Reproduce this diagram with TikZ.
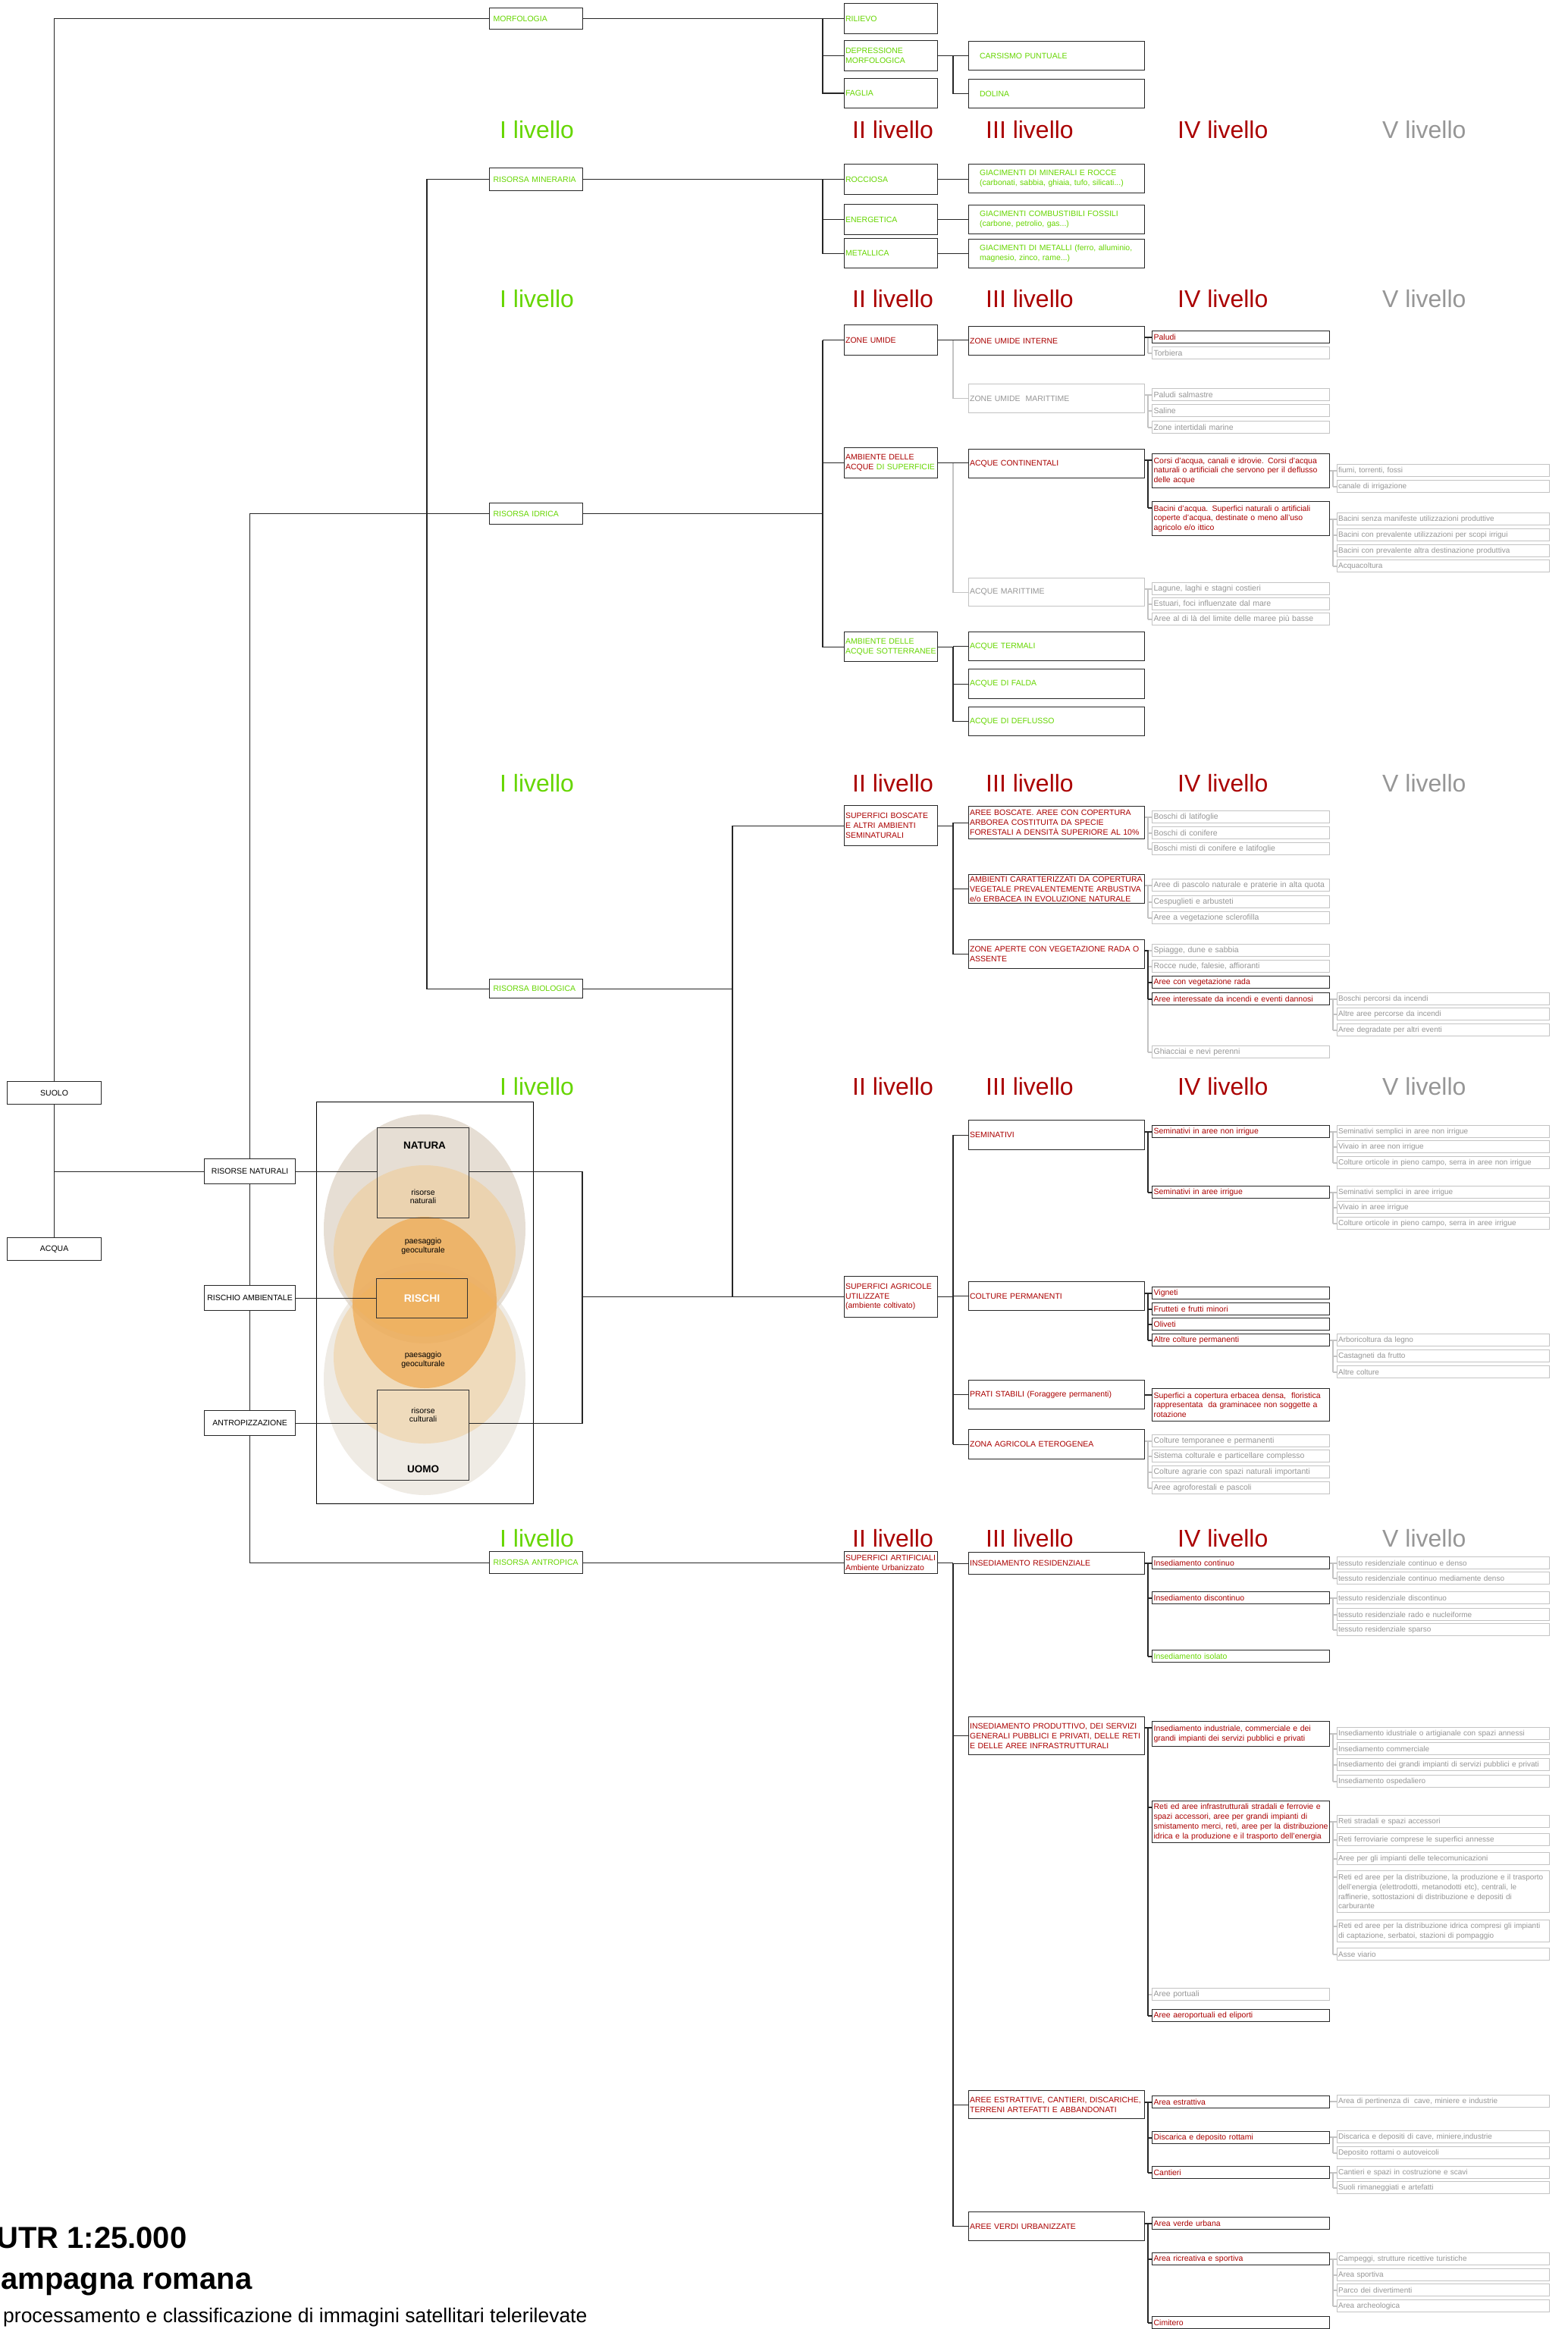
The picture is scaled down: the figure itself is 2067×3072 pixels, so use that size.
\documentclass[tikz,border=0pt]{standalone}
\usepackage{fontspec}
\setmainfont{Liberation Sans}
\definecolor{verde}{RGB}{102,214,0}
\definecolor{rosso}{RGB}{170,0,0}
\definecolor{grigio}{RGB}{150,150,150}
\definecolor{grigiochiaro}{RGB}{195,195,195}
\definecolor{terra}{RGB}{205,190,170}
\definecolor{sabbia}{RGB}{240,200,140}
\definecolor{arancio}{RGB}{240,160,60}
\newcommand\fp{\fontsize{10.5}{12.8}\selectfont}
\newcommand\fpv{\fontsize{10}{12.6}\selectfont}
\tikzset{
casella/.style={draw=black!85, line width=1.2pt, fill=white, inner ysep=1pt, align=left, anchor=north west, font=\fp},
lvI/.style={casella, text width=113pt, inner xsep=5pt},
lvII/.style={casella, text width=120pt, inner xsep=1.5pt},
lvIII/.style={casella, text width=229pt, inner xsep=1.5pt},
lvIIIg/.style={casella, text width=203pt, inner xsep=14.5pt},
lvIV/.style={casella, text width=230pt, inner xsep=2pt},
lvV/.style={casella, text width=277pt, inner xsep=1.5pt, font=\fpv},
voce verde/.style={text=verde},
voce rossa/.style={text=rosso},
voce spenta/.style={text=grigio, draw=grigiochiaro},
radice/.style={draw=black!85, line width=1.2pt, fill=white, anchor=north west, inner sep=0pt, font=\fp},
riquadro/.style={draw=black!80, line width=1.2pt, anchor=north west, inner sep=0pt},
didascalia/.style={font=\fontsize{10.5}{11.5}\selectfont, align=center, inner sep=0pt},
liv/.style={anchor=base west, inner sep=0pt, font=\fontsize{32}{36}\selectfont},
filo/.style={line width=1.2pt, black!85},
filo spento/.style={line width=1.2pt, grigiochiaro}
}
\newcommand\bx[6][]{%
  \node[#1, minimum height={(#5-#4)*1pt}] (#2) at (#3,#4) {#6};
  \coordinate (#2-t) at ([yshift=-9pt]#2.north west);}
\newcommand\ramo[6][filo]{%
  \draw[#1] (#2.east |- #5-t) -- (#3 |- #5-t) -- (#3 |- #6-t);
  \foreach \figlio in {#4} {\draw[#1] (#3 |- \figlio-t) -- (\figlio-t);}}
\newcommand\ramoIII[4]{%
  \draw[filo] (#1.east) -- (jIII |- #1.east);
  \draw[filo] (jIII |- #3.west) -- (jIII |- #4.west);
  \foreach \figlio in {#2} {\draw[filo] (jIII |- \figlio.west) -- (\figlio.west);}}

\begin{document}
\begin{tikzpicture}[x=1pt, y=-1pt]
\useasboundingbox (0,0) rectangle (2067,3072);

\fill[terra, fill opacity=.5] (560,1621) ellipse [x radius=133, y radius=151];
\fill[terra!70, fill opacity=.45] (560,1819) ellipse [x radius=133, y radius=153];
\fill[sabbia, fill opacity=.5] (560,1650) ellipse [x radius=120, y radius=113];
\fill[sabbia, fill opacity=.45] (560,1790) ellipse [x radius=120, y radius=114];
\fill[arancio, fill opacity=.6] (560,1718) ellipse [x radius=95, y radius=113];
\draw[line width=1pt] (417,1453) rectangle (703,1983);

\node[riquadro, minimum width=121pt, minimum height=119pt] (natura) at (497,1487) {};
\node[riquadro, minimum width=120pt, minimum height=52pt, text=white, font=\bfseries\fontsize{14}{16}\selectfont] (rischi) at (496,1686) {RISCHI};
\node[riquadro, minimum width=121pt, minimum height=119pt] (uomo) at (497,1833) {};
\node[didascalia, font=\bfseries\fontsize{13.5}{15}\selectfont] (t-natura) at (560,1511) {NATURA};
\node[didascalia] (t-risnat) at (558,1578) {risorse\\naturali};
\node[didascalia] (t-paes1) at (558,1644) {paesaggio\\geoculturale};
\node[didascalia] (t-paes2) at (558,1794) {paesaggio\\geoculturale};
\node[didascalia] (t-riscult) at (558,1866) {risorse\\culturali};
\node[didascalia, font=\bfseries\fontsize{13.5}{15}\selectfont] (t-uomo) at (558,1938) {UOMO};

\node[radice, minimum width=124pt, minimum height=30pt] (suolo) at (9,1426) {SUOLO};
\node[radice, minimum width=124pt, minimum height=30pt] (acqua) at (9,1632) {ACQUA};
\node[radice, minimum width=120pt, minimum height=33pt] (risnat) at (269,1528) {RISORSE NATURALI};
\node[radice, minimum width=120pt, minimum height=33pt] (rischio) at (269,1695) {RISCHIO AMBIENTALE};
\node[radice, minimum width=120pt, minimum height=33pt] (antropiz) at (269,1860) {ANTROPIZZAZIONE};

\foreach \y in {183,405,1044,1444,2040}{
  \node[liv, text=verde] (liv1-\y) at (659,\y) {I livello};
  \node[liv, text=rosso] (liv2-\y) at (1124,\y) {II livello};
  \node[liv, text=rosso] (liv3-\y) at (1300,\y) {III livello};
  \node[liv, text=rosso] (liv4-\y) at (1553,\y) {IV livello};
  \node[liv, text=grigio] (liv5-\y) at (1823,\y) {V livello};
}

\coordinate (jI) at (563,0);
\coordinate (jVenn) at (768,0);
\coordinate (jBio) at (966,0);
\coordinate (jII) at (1085,0);
\coordinate (jIII) at (1257,0);
\coordinate (jIV) at (1514,0);
\coordinate (jV) at (1758,0);

\bx[lvI, voce verde]{morf}{645}{10}{38}{MORFOLOGIA}
\bx[lvII, voce verde]{ril}{1113}{4}{44}{RILIEVO}
\bx[lvII, voce verde]{depr}{1113}{53}{93}{DEPRESSIONE\\MORFOLOGICA}
\bx[lvII, voce verde]{fag}{1113}{103}{142}{FAGLIA}
\bx[lvIIIg, voce verde]{cars}{1277}{54}{92}{CARSISMO PUNTUALE}
\bx[lvIIIg, voce verde]{dol}{1277}{104}{142}{DOLINA}

\bx[lvI, voce verde]{min}{645}{221}{251}{RISORSA MINERARIA}
\bx[lvII, voce verde]{roc}{1113}{216}{256}{ROCCIOSA}
\bx[lvII, voce verde]{ene}{1113}{269}{309}{ENERGETICA}
\bx[lvII, voce verde]{met}{1113}{314}{353}{METALLICA}
\bx[lvIIIg, voce verde]{giaa}{1277}{216}{254}{GIACIMENTI DI MINERALI E ROCCE\\(carbonati, sabbia, ghiaia, tufo, silicati...)}
\bx[lvIIIg, voce verde]{giab}{1277}{270}{308}{GIACIMENTI COMBUSTIBILI FOSSILI\\(carbone, petrolio, gas...)}
\bx[lvIIIg, voce verde]{giac}{1277}{315}{353}{GIACIMENTI DI METALLI (ferro, alluminio,\\magnesio, zinco, rame...)}

\bx[lvI, voce verde]{idr}{645}{663}{691}{RISORSA IDRICA}
\bx[lvII, voce rossa]{zu}{1113}{428}{468}{ZONE UMIDE}
\bx[lvII]{sup}{1113}{590}{630}{\textcolor{rosso}{AMBIENTE DELLE}\\\textcolor{rosso}{ACQUE} \textcolor{verde}{DI SUPERFICIE}}
\bx[lvII, voce verde]{sott}{1113}{833}{872}{AMBIENTE DELLE\\ACQUE SOTTERRANEE}
\bx[lvIII, voce rossa]{zui}{1277}{430}{468}{ZONE UMIDE INTERNE}
\bx[lvIII, voce spenta]{zum}{1277}{506}{544}{ZONE UMIDE\ \ MARITTIME}
\bx[lvIII, voce rossa]{acon}{1277}{592}{630}{ACQUE CONTINENTALI}
\bx[lvIII, voce spenta]{amar}{1277}{762}{799}{ACQUE MARITTIME}
\bx[lvIII, voce verde]{ater}{1277}{833}{871}{ACQUE TERMALI}
\bx[lvIII, voce verde]{afal}{1277}{882}{921}{ACQUE DI FALDA}
\bx[lvIII, voce verde]{adef}{1277}{932}{970}{ACQUE DI DEFLUSSO}
\bx[lvIV, voce rossa]{pal}{1519}{436}{452}{Paludi}
\bx[lvIV, voce spenta]{tor}{1519}{457}{473}{Torbiera}
\bx[lvIV, voce spenta]{pals}{1519}{512}{528}{Paludi salmastre}
\bx[lvIV, voce spenta]{sal}{1519}{533}{549}{Saline}
\bx[lvIV, voce spenta]{zint}{1519}{555}{571}{Zone intertidali marine}
\bx[lvIV, voce rossa]{cor}{1519}{598}{643}{Corsi d'acqua, canali e idrovie. Corsi d'acqua\\naturali o artificiali che servono per il deflusso\\delle acque}
\bx[lvIV, voce rossa]{bac}{1519}{661}{706}{Bacini d'acqua. Superfici naturali o artificiali\\coperte d'acqua, destinate o meno all'uso\\agricolo e/o ittico}
\bx[lvIV, voce spenta]{lag}{1519}{768}{784}{Lagune, laghi e stagni costieri}
\bx[lvIV, voce spenta]{est}{1519}{788}{804}{Estuari, foci influenzate dal mare}
\bx[lvIV, voce spenta]{mar}{1519}{808}{824}{Aree al di là del limite delle maree più basse}
\bx[lvV, voce spenta]{fiu}{1763}{612}{628}{fiumi, torrenti, fossi}
\bx[lvV, voce spenta]{can}{1763}{633}{649}{canale di irrigazione}
\bx[lvV, voce spenta]{bsa}{1763}{676}{692}{Bacini senza manifeste utilizzazioni produttive}
\bx[lvV, voce spenta]{bsb}{1763}{697}{713}{Bacini con prevalente utilizzazioni per scopi irrigui}
\bx[lvV, voce spenta]{bsc}{1763}{718}{734}{Bacini con prevalente altra destinazione produttiva}
\bx[lvV, voce spenta]{acq}{1763}{738}{754}{Acquacoltura}

\bx[lvI, voce verde]{bio}{645}{1291}{1316}{RISORSA BIOLOGICA}
\bx[lvII, voce rossa]{bos}{1113}{1062}{1115}{SUPERFICI BOSCATE\\E ALTRI AMBIENTI\\SEMINATURALI}
\bx[lvIII, voce rossa]{arb}{1277}{1063}{1106}{AREE BOSCATE. AREE CON COPERTURA\\ARBOREA COSTITUITA DA SPECIE\\FORESTALI A DENSITÀ SUPERIORE AL 10\%}
\bx[lvIII, voce rossa]{amb}{1277}{1153}{1191}{AMBIENTI CARATTERIZZATI DA COPERTURA\\VEGETALE PREVALENTEMENTE ARBUSTIVA\\e/o ERBACEA IN EVOLUZIONE NATURALE}
\bx[lvIII, voce rossa]{zap}{1277}{1239}{1277}{ZONE APERTE CON VEGETAZIONE RADA O\\ASSENTE}
\bx[lvIV, voce spenta]{bla}{1519}{1069}{1085}{Boschi di latifoglie}
\bx[lvIV, voce spenta]{bco}{1519}{1090}{1106}{Boschi di conifere}
\bx[lvIV, voce spenta]{bmi}{1519}{1111}{1127}{Boschi misti di conifere e latifoglie}
\bx[lvIV, voce spenta]{pas}{1519}{1159}{1175}{Aree di pascolo naturale e praterie in alta quota}
\bx[lvIV, voce spenta]{ces}{1519}{1181}{1197}{Cespuglieti e arbusteti}
\bx[lvIV, voce spenta]{scl}{1519}{1202}{1218}{Aree a vegetazione sclerofilla}
\bx[lvIV, voce spenta]{spi}{1519}{1245}{1261}{Spiagge, dune e sabbia}
\bx[lvIV, voce spenta]{rnu}{1519}{1266}{1282}{Rocce nude, falesie, affioranti}
\bx[lvIV, voce rossa]{rad}{1519}{1287}{1303}{Aree con vegetazione rada}
\bx[lvIV, voce rossa]{inc}{1519}{1309}{1325}{Aree interessate da incendi e eventi dannosi}
\bx[lvIV, voce spenta]{ghi}{1519}{1379}{1395}{Ghiacciai e nevi perenni}
\bx[lvV, voce spenta]{bpi}{1763}{1309}{1325}{Boschi percorsi da incendi}
\bx[lvV, voce spenta]{api}{1763}{1329}{1345}{Altre aree percorse da incendi}
\bx[lvV, voce spenta]{ade}{1763}{1350}{1366}{Aree degradate per altri eventi}

\bx[lvII, voce rossa]{agr}{1113}{1683}{1737}{SUPERFICI AGRICOLE\\UTILIZZATE\\(ambiente coltivato)}
\bx[lvIII, voce rossa]{sem}{1277}{1477}{1516}{SEMINATIVI}
\bx[lvIII, voce rossa]{cpe}{1277}{1690}{1728}{COLTURE PERMANENTI}
\bx[lvIII, voce rossa]{pra}{1277}{1820}{1858}{PRATI STABILI (Foraggere permanenti)}
\bx[lvIII, voce rossa]{zag}{1277}{1885}{1924}{ZONA AGRICOLA ETEROGENEA}
\bx[lvIV, voce rossa]{sni}{1519}{1484}{1500}{Seminativi in aree non irrigue}
\bx[lvIV, voce rossa]{sir}{1519}{1564}{1580}{Seminativi in aree irrigue}
\bx[lvIV, voce rossa]{vig}{1519}{1697}{1713}{Vigneti}
\bx[lvIV, voce rossa]{fru}{1519}{1718}{1734}{Frutteti e frutti minori}
\bx[lvIV, voce rossa]{oli}{1519}{1738}{1754}{Oliveti}
\bx[lvIV, voce rossa]{acp}{1519}{1759}{1775}{Altre colture permanenti}
\bx[lvIV, voce rossa]{scd}{1519}{1831}{1874}{Superfici a copertura erbacea densa,\ \ floristica\\rappresentata\ \ da graminacee non soggette a\\rotazione}
\bx[lvIV, voce spenta]{ctp}{1519}{1892}{1908}{Colture temporanee e permanenti}
\bx[lvIV, voce spenta]{scp}{1519}{1912}{1928}{Sistema colturale e particellare complesso}
\bx[lvIV, voce spenta]{cag}{1519}{1933}{1949}{Colture agrarie con spazi naturali importanti}
\bx[lvIV, voce spenta]{aap}{1519}{1954}{1970}{Aree agroforestali e pascoli}
\bx[lvV, voce spenta]{v1}{1763}{1484}{1500}{Seminativi semplici in aree non irrigue}
\bx[lvV, voce spenta]{v2}{1763}{1504}{1520}{Vivaio in aree non irrigue}
\bx[lvV, voce spenta]{v3}{1763}{1525}{1541}{Colture orticole in pieno campo, serra in aree non irrigue}
\bx[lvV, voce spenta]{v4}{1763}{1564}{1580}{Seminativi semplici in aree irrigue}
\bx[lvV, voce spenta]{v5}{1763}{1584}{1600}{Vivaio in aree irrigue}
\bx[lvV, voce spenta]{v6}{1763}{1605}{1621}{Colture orticole in pieno campo, serra in aree irrigue}
\bx[lvV, voce spenta]{v7}{1763}{1759}{1775}{Arboricoltura da legno}
\bx[lvV, voce spenta]{v8}{1763}{1780}{1796}{Castagneti da frutto}
\bx[lvV, voce spenta]{v9}{1763}{1801}{1817}{Altre colture}

\bx[lvI, voce verde]{antr}{645}{2046}{2075}{RISORSA ANTROPICA}
\bx[lvII, voce rossa]{art}{1113}{2046}{2075}{SUPERFICI ARTIFICIALI\\Ambiente Urbanizzato}
\bx[lvIII, voce rossa]{res}{1277}{2047}{2076}{INSEDIAMENTO RESIDENZIALE}
\bx[lvIII, voce rossa]{pro}{1277}{2264}{2314}{INSEDIAMENTO PRODUTTIVO, DEI SERVIZI\\GENERALI PUBBLICI E PRIVATI, DELLE RETI\\E DELLE AREE INFRASTRUTTURALI}
\bx[lvIII, voce rossa]{estr}{1277}{2757}{2794}{AREE ESTRATTIVE, CANTIERI, DISCARICHE,\\TERRENI ARTEFATTI E ABBANDONATI}
\bx[lvIII, voce rossa]{ver}{1277}{2917}{2955}{AREE VERDI URBANIZZATE}
\bx[lvIV, voce rossa]{icn}{1519}{2053}{2069}{Insediamento continuo}
\bx[lvIV, voce rossa]{idi}{1519}{2099}{2115}{Insediamento discontinuo}
\bx[lvIV, voce verde]{iis}{1519}{2176}{2192}{Insediamento isolato}
\bx[lvIV, voce rossa]{iin}{1519}{2270}{2303}{Insediamento industriale, commerciale e dei\\grandi impianti dei servizi pubblici e privati}
\bx[lvIV, voce rossa]{ret}{1519}{2375}{2430}{Reti ed aree infrastrutturali stradali e ferrovie e\\spazi accessori, aree per grandi impianti di\\smistamento merci, reti, aree per la distribuzione\\idrica e la produzione e il trasporto dell'energia}
\bx[lvIV, voce spenta]{por}{1519}{2622}{2638}{Aree portuali}
\bx[lvIV, voce rossa]{aer}{1519}{2650}{2666}{Aree aeroportuali ed eliporti}
\bx[lvIV, voce rossa]{aes}{1519}{2764}{2780}{Area estrattiva}
\bx[lvIV, voce rossa]{dis}{1519}{2811}{2827}{Discarica e deposito rottami}
\bx[lvIV, voce rossa]{cnt}{1519}{2857}{2873}{Cantieri}
\bx[lvIV, voce rossa]{avu}{1519}{2924}{2940}{Area verde urbana}
\bx[lvIV, voce rossa]{ars}{1519}{2971}{2987}{Area ricreativa e sportiva}
\bx[lvIV, voce rossa]{cim}{1519}{3055}{3071}{Cimitero}
\bx[lvV, voce spenta]{t1}{1763}{2053}{2069}{tessuto residenziale continuo e denso}
\bx[lvV, voce spenta]{t2}{1763}{2073}{2089}{tessuto residenziale continuo mediamente denso}
\bx[lvV, voce spenta]{t3}{1763}{2099}{2115}{tessuto residenziale discontinuo}
\bx[lvV, voce spenta]{t4}{1763}{2121}{2137}{tessuto residenziale rado e nucleiforme}
\bx[lvV, voce spenta]{t5}{1763}{2141}{2157}{tessuto residenziale sparso}
\bx[lvV, voce spenta]{p1}{1763}{2278}{2294}{Insediamento idustriale o artigianale con spazi annessi}
\bx[lvV, voce spenta]{p2}{1763}{2298}{2314}{Insediamento commerciale}
\bx[lvV, voce spenta]{p3}{1763}{2319}{2335}{Insediamento dei grandi impianti di servizi pubblici e privati}
\bx[lvV, voce spenta]{p4}{1763}{2341}{2357}{Insediamento ospedaliero}
\bx[lvV, voce spenta]{r1}{1763}{2394}{2410}{Reti stradali e spazi accessori}
\bx[lvV, voce spenta]{r2}{1763}{2418}{2434}{Reti ferroviarie comprese le superfici annesse}
\bx[lvV, voce spenta]{r3}{1763}{2443}{2459}{Aree per gli impianti delle telecomunicazioni}
\bx[lvV, voce spenta]{r4}{1763}{2467}{2522}{Reti ed aree per la distribuzione, la produzione e il trasporto\\dell'energia (elettrodotti, metanodotti etc), centrali, le\\raffinerie, sottostazioni di distribuzione e depositi di\\carburante}
\bx[lvV, voce spenta]{r5}{1763}{2532}{2561}{Reti ed aree per la distribuzione idrica compresi gli impianti\\di captazione, serbatoi, stazioni di pompaggio}
\bx[lvV, voce spenta]{r6}{1763}{2569}{2585}{Asse viario}
\bx[lvV, voce spenta]{e1}{1763}{2763}{2779}{Area di pertinenza di\ \ cave, miniere e industrie}
\bx[lvV, voce spenta]{e2}{1763}{2810}{2826}{Discarica e depositi di cave, miniere,industrie}
\bx[lvV, voce spenta]{e3}{1763}{2831}{2847}{Deposito rottami o autoveicoli}
\bx[lvV, voce spenta]{e4}{1763}{2857}{2873}{Cantieri e spazi in costruzione e scavi}
\bx[lvV, voce spenta]{e5}{1763}{2877}{2893}{Suoli rimaneggiati e artefatti}
\bx[lvV, voce spenta]{g1}{1763}{2971}{2987}{Campeggi, strutture ricettive turistiche}
\bx[lvV, voce spenta]{g2}{1763}{2992}{3008}{Area sportiva}
\bx[lvV, voce spenta]{g3}{1763}{3012}{3028}{Parco dei divertimenti}
\bx[lvV, voce spenta]{g4}{1763}{3033}{3049}{Area archeologica}

\node[anchor=base west, inner sep=0pt, font=\bfseries\fontsize{40}{44}\selectfont] (ctr) at (-5,2965) {UTR 1:25.000};
\node[anchor=base west, inner sep=0pt, font=\bfseries\fontsize{40}{44}\selectfont] (campagna) at (1,3019) {ampagna romana};
\node[anchor=base west, inner sep=0pt, font=\fontsize{26.5}{30}\selectfont] (sottotitolo) at (4,3063) {processamento e classificazione di immagini satellitari telerilevate};

\draw[filo] (suolo.north) |- (morf.west);
\draw[filo] (suolo.south) -- (acqua.north);
\draw[filo] (suolo.south |- risnat.west) -- (risnat.west);
\draw[filo] (idr.west) -| (risnat.north);
\draw[filo] (risnat.south) -- (rischio.north);
\draw[filo] (rischio.south) -- (antropiz.north);
\draw[filo] (antropiz.south) |- (antr.west);
\draw[filo] (min.west) -| (jI |- bio.west) -- (bio.west);
\draw[filo] (risnat.east) -- (risnat.east -| natura.west);
\draw[filo] (rischio.east) -- (rischio.east -| rischi.west);
\draw[filo] (antropiz.east) -- (antropiz.east -| uomo.west);
\draw[filo] (risnat.east -| natura.east) -| (jVenn |- antropiz.east) -- (antropiz.east -| uomo.east);
\draw[filo] (jVenn |- agr.west) -- (agr.west);
\draw[filo] (bio.east) -- (jBio |- bio.east);
\draw[filo] (bos.west) -| (jBio |- agr.west);

\draw[filo] (morf.east) -- (morf.east -| ril.west);
\draw[filo] (jII |- ril.west) |- (fag.west);
\draw[filo] (jII |- depr.west) -- (depr.west);
\draw[filo] (min.east) -- (min.east -| roc.west);
\draw[filo] (jII |- roc.west) |- (met.west);
\draw[filo] (jII |- ene.west) -- (ene.west);
\draw[filo] (idr.east) -- (jII |- idr.east);
\draw[filo] (jII |- zu.west) |- (sott.west);
\draw[filo] (jII |- zu.west) -- (zu.west);
\draw[filo] (jII |- sup.west) -- (sup.west);
\draw[filo] (antr.east) -- (antr.east -| art.west);

\draw[filo] (roc.east) -- (roc.east -| giaa.west);
\draw[filo] (ene.east) -- (ene.east -| giab.west);
\draw[filo] (met.east) -- (met.east -| giac.west);
\ramoIII{depr}{cars,dol}{cars}{dol}
\draw[filo spento] (jIII |- zu.east) |- (zum.west);
\draw[filo] (zu.east) -- (zu.east -| zui.west);
\draw[filo spento] (jIII |- sup.east) |- (amar.west);
\draw[filo] (sup.east) -- (sup.east -| acon.west);
\ramoIII{sott}{ater,afal,adef}{ater}{adef}
\ramoIII{bos}{arb,amb,zap}{arb}{zap}
\ramoIII{agr}{sem,cpe,pra,zag}{sem}{zag}
\ramoIII{art}{res,pro,estr,ver}{res}{ver}

\ramo[filo spento]{zui}{jIV}{pal,tor}{pal}{tor}
\ramo{zui}{jIV}{pal}{pal}{pal}
\ramo[filo spento]{zum}{jIV}{pals,sal,zint}{pals}{zint}
\ramo{acon}{jIV}{cor,bac}{cor}{bac}
\ramo[filo spento]{amar}{jIV}{lag,est,mar}{lag}{mar}
\ramo[filo spento]{arb}{jIV}{bla,bco,bmi}{bla}{bmi}
\ramo[filo spento]{amb}{jIV}{pas,ces,scl}{pas}{scl}
\ramo[filo spento]{zap}{jIV}{spi,rnu,rad,inc,ghi}{spi}{ghi}
\ramo{zap}{jIV}{rad,inc}{spi}{inc}
\ramo{sem}{jIV}{sni,sir}{sni}{sir}
\ramo{cpe}{jIV}{vig,fru,oli,acp}{vig}{acp}
\ramo{pra}{jIV}{scd}{scd}{scd}
\ramo[filo spento]{zag}{jIV}{ctp,scp,cag,aap}{ctp}{aap}
\ramo{res}{jIV}{icn,idi,iis}{icn}{iis}
\ramo[filo spento]{pro}{jIV}{iin,ret,por,aer}{iin}{aer}
\ramo{pro}{jIV}{iin,ret,aer}{iin}{aer}
\ramo{estr}{jIV}{aes,dis,cnt}{aes}{cnt}
\ramo{ver}{jIV}{avu,ars,cim}{avu}{cim}

\ramo[filo spento]{cor}{jV}{fiu,can}{fiu}{can}
\ramo[filo spento]{bac}{jV}{bsa,bsb,bsc,acq}{bsa}{acq}
\ramo[filo spento]{inc}{jV}{bpi,api,ade}{bpi}{ade}
\ramo[filo spento]{sni}{jV}{v1,v2,v3}{v1}{v3}
\ramo[filo spento]{sir}{jV}{v4,v5,v6}{v4}{v6}
\ramo[filo spento]{acp}{jV}{v7,v8,v9}{v7}{v9}
\ramo[filo spento]{icn}{jV}{t1,t2}{t1}{t2}
\ramo[filo spento]{idi}{jV}{t3,t4,t5}{t3}{t5}
\ramo[filo spento]{iin}{jV}{p1,p2,p3,p4}{p1}{p4}
\ramo[filo spento]{ret}{jV}{r1,r2,r3,r4,r5,r6}{r1}{r6}
\ramo[filo spento]{aes}{jV}{e1}{e1}{e1}
\ramo[filo spento]{dis}{jV}{e2,e3}{e2}{e3}
\ramo[filo spento]{cnt}{jV}{e4,e5}{e4}{e5}
\ramo[filo spento]{ars}{jV}{g1,g2,g3,g4}{g1}{g4}
\end{tikzpicture}
\end{document}
